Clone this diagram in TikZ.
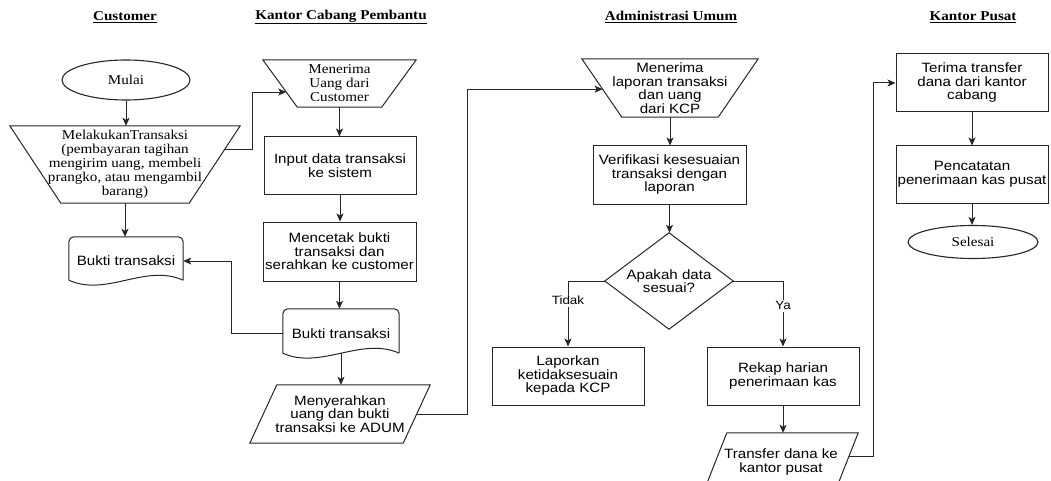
\documentclass[tikz,border=0pt]{standalone}
\usepackage{fontspec}
\setmainfont[FakeStretch=1.12]{Liberation Serif}
\setsansfont[FakeStretch=1.12]{Liberation Sans}
\usetikzlibrary{arrows.meta,calc,shapes.geometric}
\tikzset{
 ln/.style={draw=black!85, line width=1pt},
 arr/.style={ln, -{Stealth[length=8pt,width=7pt,inset=2pt]}},
 base/.style={inner sep=0pt, align=center, font=\sffamily\fontsize{13.5}{13.5}\selectfont},
 serif/.style={font=\rmfamily\fontsize{13.5}{14}\selectfont},
 box/.style={base, rectangle, draw=black!85, line width=1pt},
 shp/.style={base, rectangle},
 oval/.style={base, serif, ellipse, draw=black!85, line width=1.1pt},
 title/.style={inner sep=0pt, font=\rmfamily\bfseries\fontsize{13.5}{13.5}\selectfont},
 lbl/.style={fill=white, inner sep=1.5pt, font=\sffamily\fontsize{12}{12}\selectfont},
}
\newcommand\manop[2]{\draw[ln] (#1.north west) -- (#1.north east) -- ([xshift=-#2]#1.south east) -- ([xshift=#2]#1.south west) -- cycle;}
\newcommand\parlg[2]{\draw[ln] ([xshift=#2]#1.north west) -- (#1.north east) -- ([xshift=-#2]#1.south east) -- (#1.south west) -- cycle;}
\newcommand\docsh[1]{%
 \draw[ln,rounded corners=5pt] ([yshift=5pt]#1.south west) -- (#1.north west) -- (#1.north east) -- ([yshift=5pt]#1.south east);
 \draw[ln] ([yshift=5pt]#1.south east) .. controls ([xshift=-38pt,yshift=22pt]#1.south east) and ([xshift=38pt,yshift=-12pt]#1.south west) .. ([yshift=5pt]#1.south west);}
\begin{document}
\begin{tikzpicture}[x=1pt,y=-1pt]
\useasboundingbox (0,0) rectangle (1051,481);
\clip (0,0) rectangle (1051,481);
% titles
\node[title] (h1) at (125,17) {\underline{Customer}};
\node[title] (h2) at (341,17) {\underline{Kantor Cabang Pembantu}};
\node[title] (h3) at (671,17) {\underline{Administrasi Umum}};
\node[title] (h4) at (973,17) {\underline{Kantor Pusat}};
% Customer
\node[oval, minimum width=128pt, minimum height=40pt] (mulai) at (126,80) {Mulai};
\node[shp, serif, minimum width=230pt, minimum height=77pt] (t1) at (125,164.5) {MelakukanTransaksi\\(pembayaran tagihan\\mengirim uang, membeli\\prangko, atau mengambil\\barang)};
\manop{t1}{51pt}
\node[shp, minimum width=114pt, minimum height=48pt] (d1) at (126,261) {Bukti transaksi};
\docsh{d1}
% KCP
\node[shp, serif, minimum width=153pt, minimum height=47pt] (u1) at (339.5,83.5) {Menerima\\Uang dari\\Customer};
\manop{u1}{34.5pt}
\node[box, minimum width=152pt, minimum height=57pt] (b1) at (340,165.5) {Input data transaksi\\ke sistem};
\node[box, minimum width=153pt, minimum height=59pt] (b2) at (339.5,251.5) {Mencetak bukti\\transaksi dan\\serahkan ke customer};
\node[shp, minimum width=116pt, minimum height=49pt] (d2) at (341,333.5) {Bukti transaksi};
\docsh{d2}
\node[shp, minimum width=180pt, minimum height=58pt] (p1) at (340,414) {Menyerahkan\\uang dan bukti\\transaksi ke ADUM};
\parlg{p1}{27pt}
% ADUM
\node[shp, minimum width=176pt, minimum height=58pt] (u2) at (670,88) {Menerima\\laporan transaksi\\dan uang\\dari KCP};
\manop{u2}{40pt}
\node[box, minimum width=153pt, minimum height=58pt] (b3) at (669.5,175) {Verifikasi kesesuaian\\transaksi dengan\\laporan};
\node[shp, minimum width=128pt, minimum height=96pt] (dm) at (669,281) {Apakah data\\sesuai?};
\draw[ln] (dm.north) -- (dm.east) -- (dm.south) -- (dm.west) -- cycle;
\node[box, minimum width=152pt, minimum height=58pt] (b4) at (568,376) {Laporkan\\ketidaksesuain\\kepada KCP};
\node[box, minimum width=152pt, minimum height=58pt] (b5) at (783,376) {Rekap harian\\penerimaan kas};
\node[shp, minimum width=154pt, minimum height=58pt] (p2) at (781,462) {Transfer dana ke\\kantor pusat};
\parlg{p2}{23pt}
% Pusat
\node[box, minimum width=152pt, minimum height=58pt] (b6) at (972,83) {Terima transfer\\dana dari kantor\\cabang};
\node[box, minimum width=152pt, minimum height=57pt] (b7) at (972,174.5) {Pencatatan\\penerimaan kas pusat};
\node[oval, minimum width=130pt, minimum height=33pt] (e2) at (973,242) {Selesai};
% edge points
\coordinate (t1e) at ($(t1.north east)!0.31!([xshift=-51pt]t1.south east)$);
\coordinate (u1e) at ($(u1.north west)!0.68!([xshift=34.5pt]u1.south west)$);
\coordinate (p1e) at ($(p1.north east)!0.5!([xshift=-27pt]p1.south east)$);
\coordinate (u2e) at ($(u2.north west)!0.52!([xshift=40pt]u2.south west)$);
\coordinate (p2e) at ($(p2.north east)!0.41!([xshift=-23pt]p2.south east)$);
% connectors
\draw[arr] (mulai.south) -- (mulai.south |- t1.north);
\draw[arr] (t1.south) -- (t1.south |- d1.north);
\draw[arr] (t1e) -- ++(28,0) |- (u1e);
\draw[arr] (u1.south) -- (u1.south |- b1.north);
\draw[arr] (b1.south) -- (b1.south |- b2.north);
\draw[arr] (b2.south) -- (b2.south |- d2.north);
\draw[arr] ([yshift=5pt]d2.south) -- (d2.south |- p1.north);
\draw[arr] (d2.west) -- ++(-51,0) |- (d1.east);
\draw[arr] (p1e) -- ++(50.5,0) |- (u2e);
\draw[arr] (u2.south) -- (u2.south |- b3.north);
\draw[arr] (b3.south) -- (b3.south |- dm.north);
\draw[arr] (dm.west) -| node[lbl, pos=0.65] {Tidak} (b4.north);
\draw[arr] (dm.east) -| node[lbl, pos=0.69] {Ya} (b5.north);
\draw[arr] (b5.south) -- (b5.south |- p2.north);
\draw[arr] (p2e) -- ++(24.4,0) |- (b6.west);
\draw[arr] (b6.south) -- (b6.south |- b7.north);
\draw[arr] (b7.south) -- (b7.south |- e2.north);
\end{tikzpicture}
\end{document}
